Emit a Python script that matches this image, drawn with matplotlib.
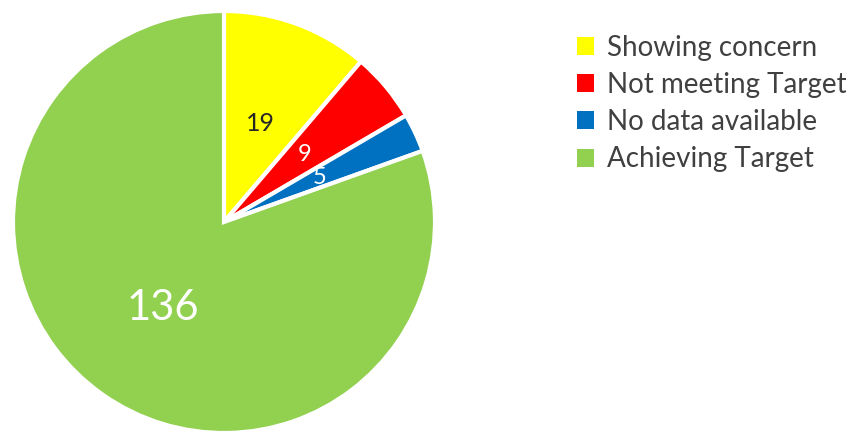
import matplotlib
matplotlib.use("Agg")
import matplotlib.pyplot as plt
from matplotlib.patches import Patch

categories = ["Showing concern", "Not meeting Target", "No data available", "Achieving Target"]
values = [19, 9, 5, 136]
colors = ["#FFFF00", "#FF0000", "#0070C0", "#92D050"]
label_colors = ["#262626", "white", "white", "white"]
label_sizes = [18, 17, 17, 30]

plt.rcParams['font.family'] = ['Lato', 'DejaVu Sans']

W, H = 850, 432
fig = plt.figure(figsize=(W / 100, H / 100), dpi=100)
cx, cy, r = 224, 222, 211
ax = fig.add_axes([(cx - r) / W, (H - cy - r) / H, 2 * r / W, 2 * r / H])

total = sum(values)
wedges, texts, autotexts = ax.pie(
    values, colors=colors, startangle=90, counterclock=False,
    wedgeprops=dict(edgecolor="white", linewidth=3),
    autopct=lambda p: f"{round(p * total / 100)}", pctdistance=0.5,
)
for t, c, s in zip(autotexts, label_colors, label_sizes):
    t.set_color(c)
    t.set_fontsize(s)
ax.set_xlim(-1, 1)
ax.set_ylim(-1, 1)
ax.set_aspect("equal")
ax.axis("off")

handles = [Patch(facecolor=c, edgecolor="none") for c in colors]
leg = fig.legend(handles, categories, loc="upper left",
                 bbox_to_anchor=(577 / W, 1 - 35 / H), frameon=False,
                 fontsize=20, labelcolor="#404040", handlelength=0.62,
                 handleheight=0.62, handletextpad=0.47, labelspacing=0.4,
                 borderaxespad=0, borderpad=0)

fig.savefig("out.png", dpi=100)
